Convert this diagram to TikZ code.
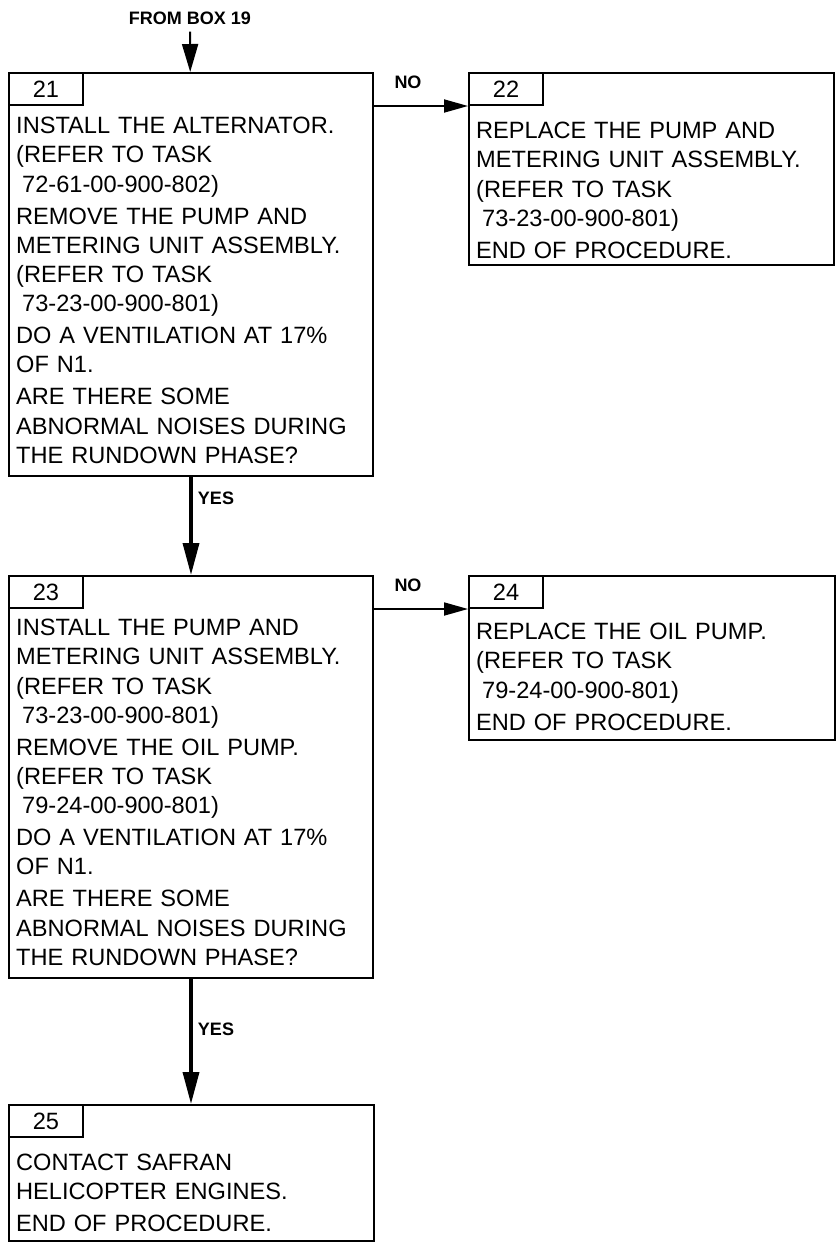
\documentclass[tikz,border=0pt]{standalone}
\usepackage{fontspec}
\setmainfont{Liberation Sans}
\usepackage{tikz}
\usetikzlibrary{calc,positioning,arrows.meta}

\begin{document}
\begin{tikzpicture}[
    x=1pt, y=-1pt,
    every node/.style={font=\fontsize{23.6pt}{29.2pt}\selectfont},
    box/.style={rectangle, draw=black, line width=2pt, anchor=north west,
                inner sep=0pt},
    tab/.style={rectangle, draw=black, line width=2pt, anchor=north west,
                minimum width=74pt, minimum height=32pt, inner sep=0pt},
    txt/.style={anchor=north west, align=left, inner sep=0pt, text width=350pt},
    lbl/.style={font=\fontsize{18pt}{20pt}\selectfont\bfseries, inner sep=0pt},
    arr/.style={-{Triangle[length=28pt, width=16pt]}, line width=2pt},
    narr/.style={-{Triangle[length=24pt, width=13pt]}, line width=1.8pt},
    yarr/.style={-{Triangle[length=32pt, width=16pt]}, line width=3.5pt}
]
\useasboundingbox[fill=white] (0,0) rectangle (838,1243);

% boxes
\node[box, minimum width=364pt, minimum height=403pt] (b21) at (8,72)    {};
\node[box, minimum width=365pt, minimum height=192pt] (b22) at (468,72)  {};
\node[box, minimum width=364pt, minimum height=402pt] (b23) at (8,575)   {};
\node[box, minimum width=366pt, minimum height=164pt] (b24) at (468,575) {};
\node[box, minimum width=365pt, minimum height=136pt] (b25) at (8,1104)  {};

% number tabs
\node[tab] (t21) at (b21.north west) {21};
\node[tab] (t22) at (b22.north west) {22};
\node[tab] (t23) at (b23.north west) {23};
\node[tab] (t24) at (b24.north west) {24};
\node[tab] (t25) at (b25.north west) {25};

% box texts
\node[txt] (x21) at ([shift={(8,45)}]b21.north west) {%
INSTALL THE ALTERNATOR.\\
(REFER TO TASK\\
\hspace*{6pt}72-61-00-900-802)\\[2.8pt]
REMOVE THE PUMP AND\\
METERING UNIT ASSEMBLY.\\
(REFER TO TASK\\
\hspace*{6pt}73-23-00-900-801)\\[2.8pt]
DO A VENTILATION AT 17\%\\
OF N1.\\[2.8pt]
ARE THERE SOME\\
ABNORMAL NOISES DURING\\
THE RUNDOWN PHASE?};
\node[txt] (x22) at ([shift={(8,50)}]b22.north west) {%
REPLACE THE PUMP AND\\
METERING UNIT ASSEMBLY.\\
(REFER TO TASK\\
\hspace*{6pt}73-23-00-900-801)\\[2.8pt]
END OF PROCEDURE.};
\node[txt] (x23) at ([shift={(8,44)}]b23.north west) {%
INSTALL THE PUMP AND\\
METERING UNIT ASSEMBLY.\\
(REFER TO TASK\\
\hspace*{6pt}73-23-00-900-801)\\[2.8pt]
REMOVE THE OIL PUMP.\\
(REFER TO TASK\\
\hspace*{6pt}79-24-00-900-801)\\[2.8pt]
DO A VENTILATION AT 17\%\\
OF N1.\\[2.8pt]
ARE THERE SOME\\
ABNORMAL NOISES DURING\\
THE RUNDOWN PHASE?};
\node[txt] (x24) at ([shift={(8,48)}]b24.north west) {%
REPLACE THE OIL PUMP.\\
(REFER TO TASK\\
\hspace*{6pt}79-24-00-900-801)\\[2.8pt]
END OF PROCEDURE.};
\node[txt] (x25) at ([shift={(8,50)}]b25.north west) {%
CONTACT SAFRAN\\
HELICOPTER ENGINES.\\[2.8pt]
END OF PROCEDURE.};

% connector labels
\node[lbl] (from) at (190,18)   {FROM BOX 19};
\node[lbl] (no1)  at (408,82)   {NO};
\node[lbl] (no2)  at (408,585)  {NO};
\node[lbl] (yes1) at (216,498)  {YES};
\node[lbl] (yes2) at (216,1029) {YES};

% connectors
\draw[arr, shorten <=7pt] (from) -- (b21);
\draw[narr] (t22.south west -| b21.east) -- (t22.south west);
\draw[narr] (t24.south west -| b23.east) -- (t24.south west);
\draw[yarr] (b21) -- (b23);
\draw[yarr] (b23) -- (b25.north -| b23.south);
\end{tikzpicture}
\end{document}
